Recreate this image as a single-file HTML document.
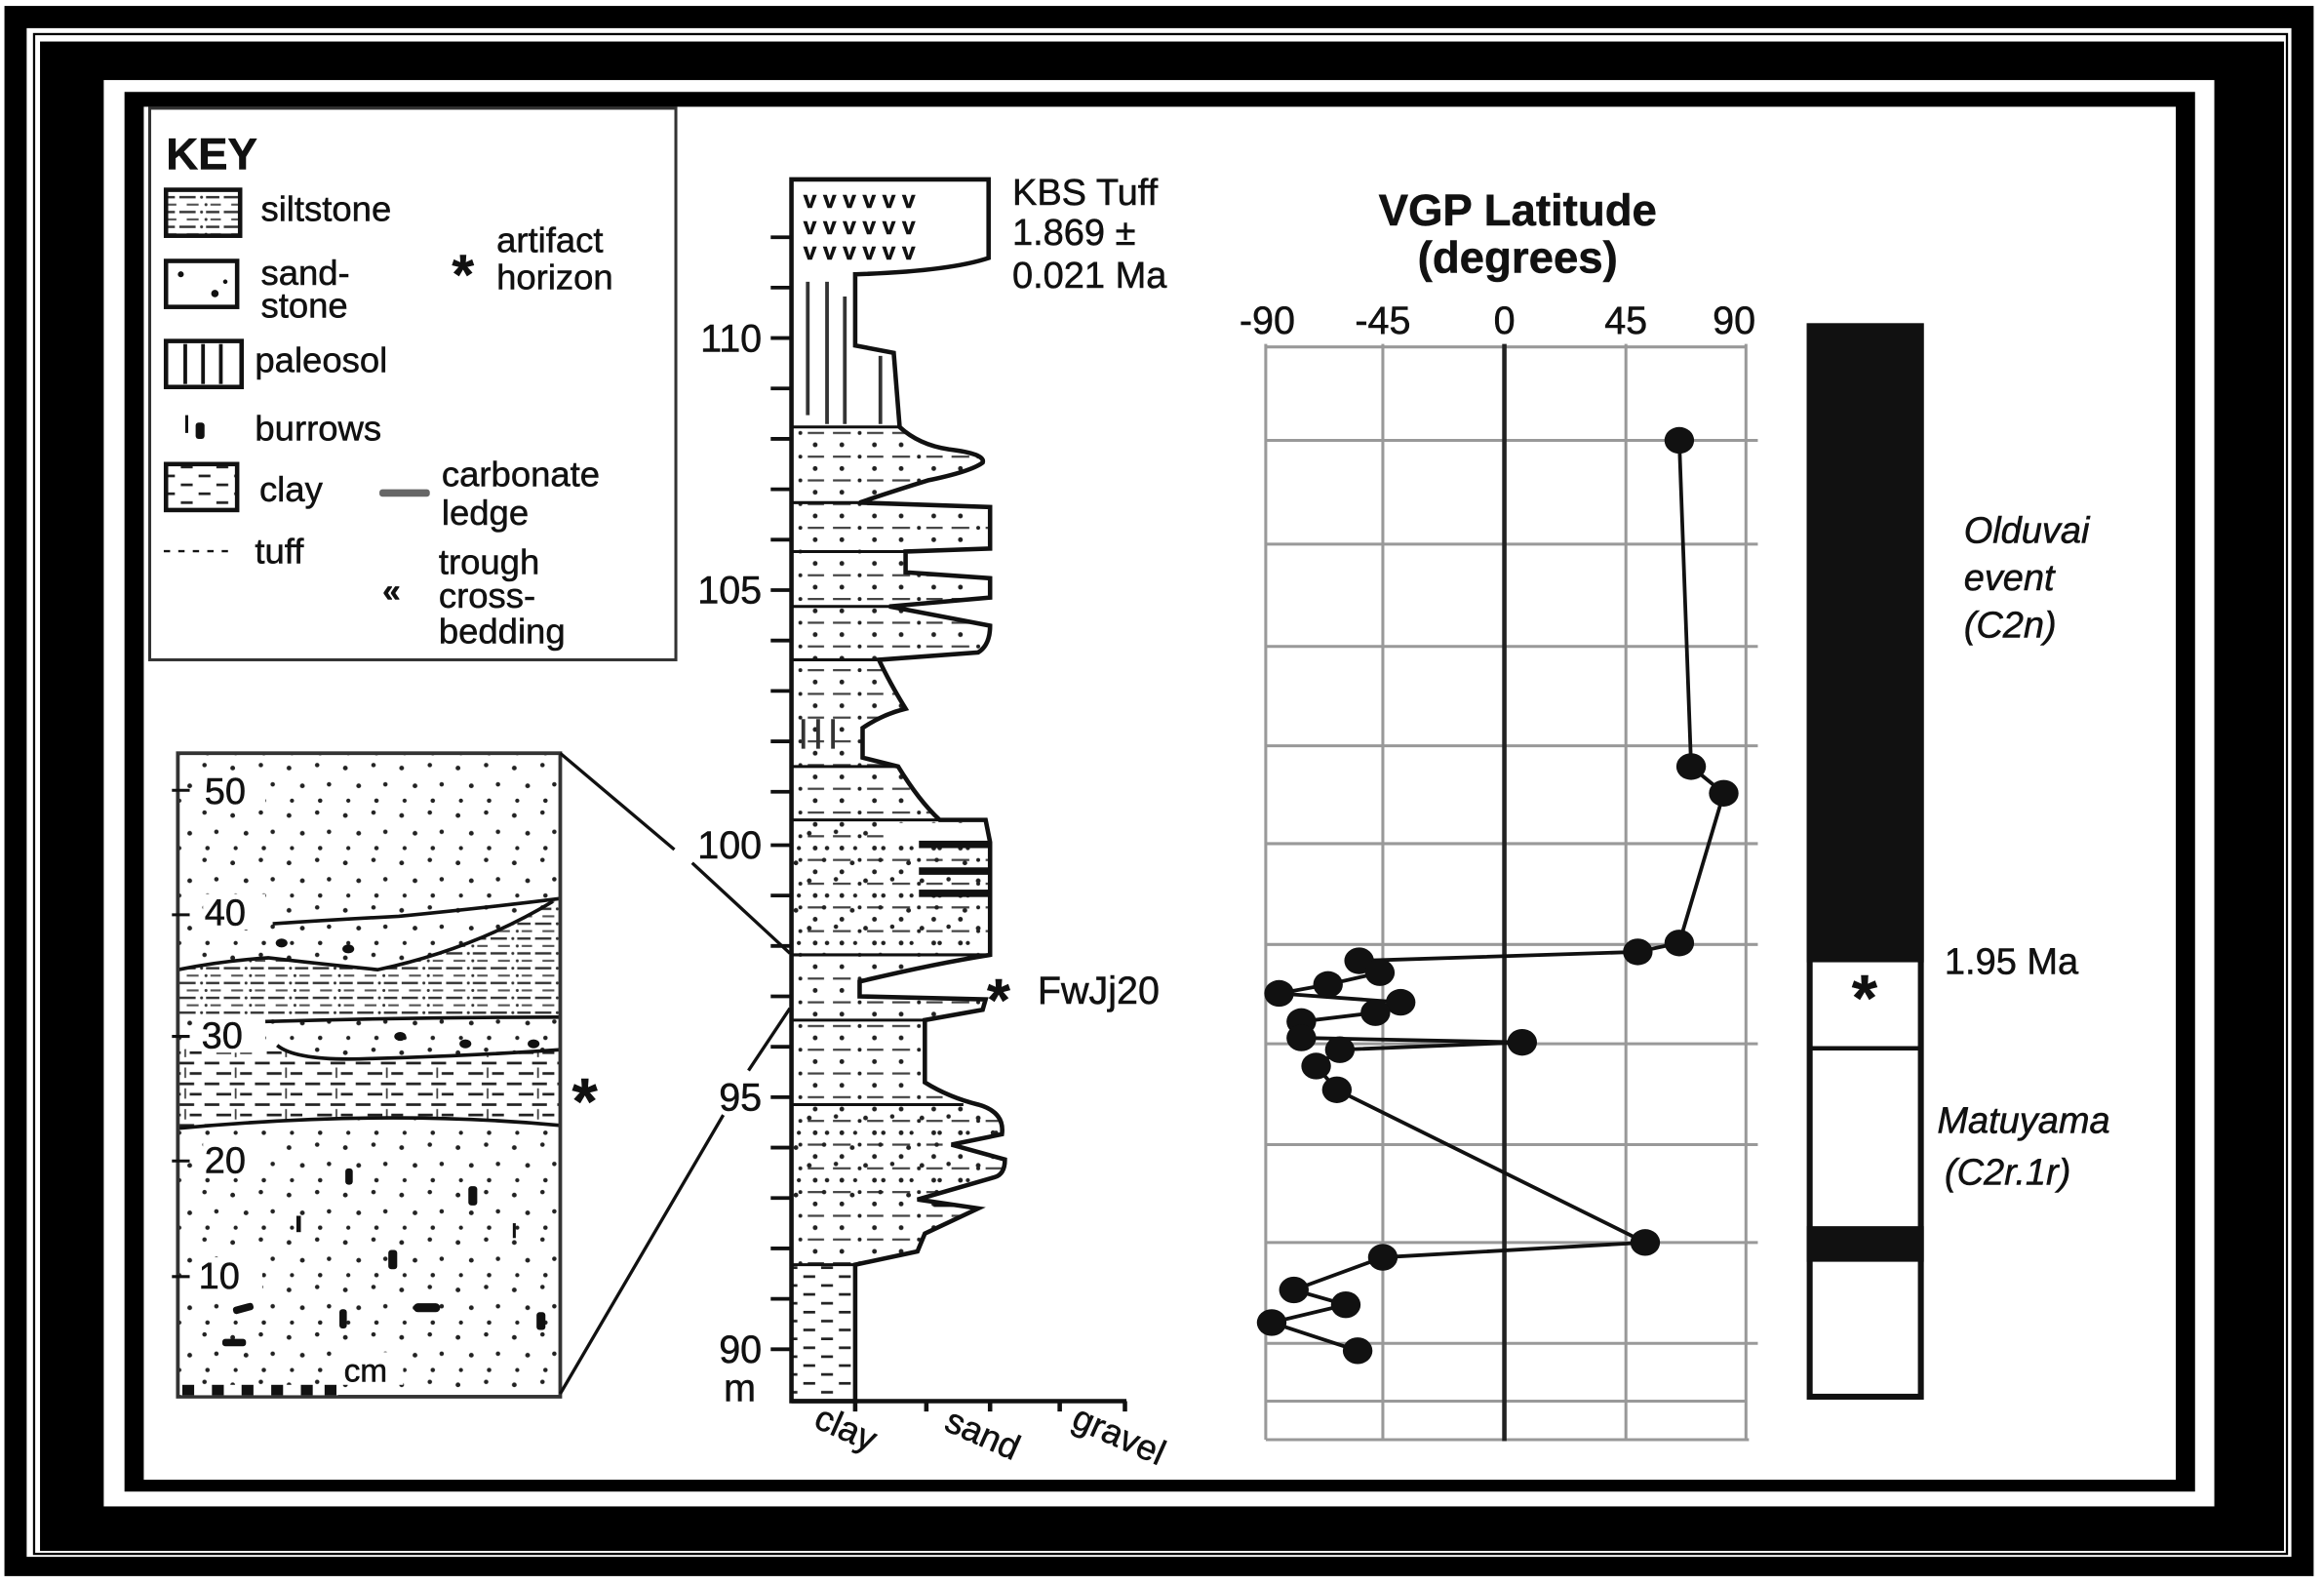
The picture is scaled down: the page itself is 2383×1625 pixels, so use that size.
<!DOCTYPE html>
<html><head><meta charset="utf-8"><style>
html,body{margin:0;padding:0;background:#fff;}
svg{display:block;}
text{font-family:"Liberation Sans",Arial,sans-serif;fill:#111;stroke:#111;stroke-width:0.35;}
</style></head><body>
<svg width="2383" height="1625" viewBox="0 0 1568 1069" preserveAspectRatio="none" xmlns="http://www.w3.org/2000/svg">
<defs>
<pattern id="sd" width="38" height="32" patternUnits="userSpaceOnUse">
<circle cx="5" cy="6" r="1.6" fill="#222"/><circle cx="24" cy="4" r="1.5" fill="#222"/><circle cx="14" cy="18" r="1.6" fill="#222"/><circle cx="32" cy="17" r="1.5" fill="#222"/><circle cx="7" cy="28" r="1.4" fill="#222"/><circle cx="26" cy="28" r="1.5" fill="#222"/>
</pattern>
<pattern id="silt" width="30" height="10" patternUnits="userSpaceOnUse">
<line x1="1" y1="3" x2="12" y2="3" stroke="#333" stroke-width="1.6"/><circle cx="16" cy="3" r="1" fill="#333"/><line x1="19" y1="3" x2="28" y2="3" stroke="#333" stroke-width="1.6"/>
<line x1="6" y1="8" x2="14" y2="8" stroke="#555" stroke-width="1.4"/><circle cx="19" cy="8" r="1" fill="#333"/><line x1="22" y1="8" x2="29" y2="8" stroke="#555" stroke-width="1.4"/>
</pattern>
<pattern id="clay" width="24" height="12" patternUnits="userSpaceOnUse">
<line x1="2" y1="3" x2="10" y2="3" stroke="#222" stroke-width="1.8"/><line x1="14" y1="9" x2="22" y2="9" stroke="#222" stroke-width="1.8"/>
</pattern>
<pattern id="claycl" width="34" height="14" patternUnits="userSpaceOnUse">
<line x1="2" y1="3" x2="12" y2="3" stroke="#222" stroke-width="1.8"/><line x1="19" y1="3" x2="29" y2="3" stroke="#222" stroke-width="1.8"/>
<line x1="10" y1="10" x2="20" y2="10" stroke="#222" stroke-width="1.8"/><line x1="26" y1="10" x2="34" y2="10" stroke="#222" stroke-width="1.8"/><line x1="23" y1="6" x2="23" y2="13" stroke="#444" stroke-width="1.2"/>
</pattern>
<pattern id="mix" width="40" height="16" patternUnits="userSpaceOnUse">
<line x1="2" y1="4" x2="14" y2="4" stroke="#444" stroke-width="1.5"/><circle cx="20" cy="4" r="1.3" fill="#222"/><line x1="25" y1="4" x2="36" y2="4" stroke="#444" stroke-width="1.5"/>
<circle cx="8" cy="12" r="1.6" fill="#222"/><circle cx="30" cy="12" r="1.6" fill="#222"/>
</pattern>
<clipPath id="col"><path d="M534,121 L667,121 L667,174 Q640,183 577,185 L577,233 L603,238 L607,288 Q620,300 640,303 Q665,306 663,312 Q655,318 626,324 Q600,332 580,339 L668,342 L668,370 L611,372 L611,386 L668,390 L668,403 L600,409 L668,422 Q668,435 660,440 L593,445 Q600,460 611,478 Q595,482 582,491 L582,511 L606,517 Q620,540 634,553 L665,553 L668,568 L668,605 L668,644 Q630,650 580,662 L580,672 L665,674 L663,681 L624,688 L624,730 Q640,740 660,745 Q678,750 676,765 L642,772 L678,782 Q678,792 671,794 L619,809 L660,815 L624,832 L619,844 L577,853 L577,945 L534,945 Z"/></clipPath>
</defs>

<rect x="0" y="0" width="1568" height="1069" fill="#fff"/>
<rect x="3" y="4" width="1558" height="1059" fill="#000"/>
<rect x="18" y="19" width="1528" height="1031" fill="#fff"/>
<rect x="23" y="23" width="1520" height="1025" fill="none" stroke="#000" stroke-width="1.5"/>
<rect x="27" y="28" width="1514" height="1018" fill="#000"/>
<rect x="70" y="54" width="1424" height="962" fill="#fff"/>
<rect x="84" y="62" width="1397" height="944" fill="#000"/>
<rect x="97" y="72" width="1371" height="926" fill="#fff"/>

<rect x="101" y="73" width="355" height="372" fill="#fff" stroke="#333" stroke-width="2"/>
<text x="112" y="114" font-size="30" font-weight="bold">KEY</text>
<rect x="112" y="128" width="50" height="31" fill="url(#silt)" stroke="#111" stroke-width="3"/>
<text x="176" y="149" font-size="24">siltstone</text>
<rect x="112" y="176" width="48" height="31" fill="#fff" stroke="#111" stroke-width="3"/>
<circle cx="122" cy="185" r="2" fill="#111"/><circle cx="145" cy="198" r="2.5" fill="#111"/><circle cx="152" cy="190" r="1.5" fill="#111"/>
<text x="176" y="192" font-size="24">sand-</text>
<text x="176" y="214" font-size="24">stone</text>
<text x="305" y="198" font-size="38" font-weight="bold">*</text>
<text x="335" y="170" font-size="24">artifact</text>
<text x="335" y="195" font-size="24">horizon</text>
<rect x="112" y="230" width="51" height="31" fill="#fff" stroke="#111" stroke-width="3"/>
<g stroke="#111" stroke-width="2.5"><line x1="125" y1="232" x2="125" y2="259"/><line x1="137" y1="232" x2="137" y2="259"/><line x1="149" y1="232" x2="149" y2="259"/></g>
<text x="172" y="251" font-size="24">paleosol</text>
<line x1="126" y1="280" x2="126" y2="292" stroke="#111" stroke-width="2"/><rect x="132" y="285" width="6" height="11" rx="2" fill="#111"/>
<text x="172" y="297" font-size="24">burrows</text>
<rect x="112" y="313" width="48" height="31" fill="url(#clay)" stroke="#111" stroke-width="3"/>
<text x="175" y="338" font-size="24">clay</text>
<rect x="256" y="330" width="34" height="5" rx="2" fill="#666"/>
<text x="298" y="328" font-size="24">carbonate</text>
<text x="298" y="354" font-size="24">ledge</text>
<text x="110" y="376" font-size="16" fill="#555" stroke="none">- - - - -</text>
<text x="172" y="380" font-size="24">tuff</text>
<text x="258" y="406" font-size="22" font-weight="bold">«</text>
<text x="296" y="387" font-size="24">trough</text>
<text x="296" y="410" font-size="24">cross-</text>
<text x="296" y="434" font-size="24">bedding</text>

<rect x="120" y="508" width="258" height="434" fill="url(#sd)"/>
<path d="M120,654 Q150,648 181,646 Q215,650 255,654 Q320,640 373,608 L378,605 L378,686 L120,686 Z" fill="#fff"/>
<path d="M120,654 Q150,648 181,646 Q215,650 255,654 Q320,640 373,608 L378,605 L378,686 L120,686 Z" fill="url(#silt)"/>
<path d="M120,708 Q150,705 187,705 Q200,716 250,714 Q320,712 378,708 L378,759 Q260,748 120,761 Z" fill="#fff"/>
<path d="M120,708 Q150,705 187,705 Q200,716 250,714 Q320,712 378,708 L378,759 Q260,748 120,761 Z" fill="url(#claycl)"/>
<g fill="none" stroke="#111" stroke-width="2.4">
<path d="M184,623 Q230,620 269,618 Q330,612 378,606"/>
<path d="M120,654 Q150,648 181,646 Q215,650 255,654 Q320,640 373,608"/>
<path d="M179,689 Q280,686 378,686"/>
<path d="M187,705 Q200,716 250,714 Q320,712 378,708"/>
<path d="M120,761 Q260,748 378,759"/>
</g>
<g fill="#111">
<ellipse cx="190" cy="636" rx="4" ry="3"/><ellipse cx="235" cy="640" rx="4" ry="3"/><ellipse cx="270" cy="699" rx="4" ry="3"/><ellipse cx="314" cy="704" rx="4" ry="3"/><ellipse cx="360" cy="704" rx="4" ry="3"/>
<rect x="233" y="788" width="5" height="11" rx="2"/><rect x="316" y="800" width="6" height="13" rx="2"/><rect x="262" y="843" width="6" height="13" rx="2"/><rect x="200" y="820" width="3" height="11"/><rect x="346" y="825" width="2" height="10"/>
<rect x="157" y="880" width="14" height="5" rx="2" transform="rotate(-15 164 882)"/><rect x="279" y="879" width="18" height="6" rx="3"/><rect x="229" y="883" width="5" height="13" rx="2"/><rect x="362" y="885" width="6" height="12" rx="2"/><rect x="150" y="903" width="16" height="5" rx="2"/>
</g>
<rect x="120" y="508" width="258" height="434" fill="none" stroke="#333" stroke-width="2.5"/>
<rect x="122" y="934" width="106" height="7" fill="#fff"/>
<g fill="#111"><rect x="123" y="934" width="8" height="7"/><rect x="143" y="934" width="8" height="7"/><rect x="163" y="934" width="8" height="7"/><rect x="183" y="934" width="8" height="7"/><rect x="203" y="934" width="8" height="7"/><rect x="219" y="934" width="8" height="7"/></g>
<g fill="#fff"><rect x="137" y="521" width="42" height="24"/><rect x="137" y="603" width="42" height="24"/><rect x="137" y="686" width="42" height="24"/><rect x="137" y="770" width="42" height="24"/><rect x="135" y="848" width="42" height="24"/><rect x="228" y="912" width="44" height="22"/></g>
<g font-size="25"><text x="138" y="542">50</text><text x="138" y="624">40</text><text x="136" y="707">30</text><text x="138" y="791">20</text><text x="134" y="869">10</text><text x="232" y="932" font-size="22">cm</text></g>
<g stroke="#111" stroke-width="2"><line x1="116" y1="533" x2="128" y2="533"/><line x1="116" y1="617" x2="128" y2="617"/><line x1="116" y1="699" x2="128" y2="699"/><line x1="116" y1="783" x2="128" y2="783"/><line x1="116" y1="861" x2="128" y2="861"/></g>
<text x="386" y="758" font-size="44" font-weight="bold">*</text>

<line x1="378" y1="508" x2="455" y2="573" stroke="#111" stroke-width="2.2"/>
<line x1="467" y1="582" x2="533" y2="643" stroke="#111" stroke-width="2.2"/>
<line x1="378" y1="940" x2="488" y2="752" stroke="#111" stroke-width="2.2"/>
<line x1="505" y1="722" x2="533" y2="680" stroke="#111" stroke-width="2.2"/>

<g clip-path="url(#col)">
<rect x="530" y="118" width="150" height="830" fill="#fff"/>
<rect x="530" y="288" width="150" height="565" fill="url(#mix)"/>
<rect x="530" y="853" width="60" height="95" fill="url(#clay)"/>
<rect x="530" y="553" width="150" height="90" fill="url(#sd)"/>
<rect x="600" y="555" width="70" height="12" fill="#fff"/>
<rect x="530" y="745" width="150" height="70" fill="url(#sd)"/>
<g stroke="#333" stroke-width="2.5"><line x1="545" y1="190" x2="545" y2="280"/><line x1="558" y1="190" x2="558" y2="286"/><line x1="570" y1="200" x2="570" y2="286"/><line x1="594" y1="240" x2="594" y2="286"/><line x1="542" y1="485" x2="542" y2="505"/><line x1="552" y1="485" x2="552" y2="505"/><line x1="562" y1="485" x2="562" y2="505"/></g>
<g font-size="16" font-weight="bold"><text x="542" y="140">v v v v v v</text><text x="542" y="158">v v v v v v</text><text x="542" y="175">v v v v v v</text></g>
<g stroke="#111" stroke-width="2" fill="none">
<line x1="534" y1="288" x2="608" y2="288"/><line x1="534" y1="339" x2="620" y2="339"/><line x1="534" y1="372" x2="612" y2="372"/><line x1="534" y1="409" x2="610" y2="409"/><line x1="534" y1="445" x2="600" y2="445"/><line x1="534" y1="517" x2="606" y2="517"/><line x1="534" y1="553" x2="668" y2="553"/><line x1="534" y1="644" x2="668" y2="644"/><line x1="534" y1="688" x2="624" y2="688"/><line x1="534" y1="745" x2="650" y2="745"/><line x1="534" y1="853" x2="620" y2="853"/>
</g>
<g fill="#111"><rect x="620" y="567" width="50" height="5"/><rect x="620" y="585" width="50" height="5"/><rect x="620" y="600" width="50" height="5"/><rect x="580" y="660" width="40" height="5"/><rect x="630" y="810" width="20" height="4"/></g>
</g>
<path d="M534,121 L667,121 L667,174 Q640,183 577,185 L577,233 L603,238 L607,288 Q620,300 640,303 Q665,306 663,312 Q655,318 626,324 Q600,332 580,339 L668,342 L668,370 L611,372 L611,386 L668,390 L668,403 L600,409 L668,422 Q668,435 660,440 L593,445 Q600,460 611,478 Q595,482 582,491 L582,511 L606,517 Q620,540 634,553 L665,553 L668,568 L668,605 L668,644 Q630,650 580,662 L580,672 L665,674 L663,681 L624,688 L624,730 Q640,740 660,745 Q678,750 676,765 L642,772 L678,782 Q678,792 671,794 L619,809 L660,815 L624,832 L619,844 L577,853 L577,945 L534,945 Z" fill="none" stroke="#111" stroke-width="3"/>
<g stroke="#111" stroke-width="2.5">
<line x1="520" y1="160" x2="534" y2="160"/><line x1="520" y1="194" x2="534" y2="194"/><line x1="520" y1="228" x2="534" y2="228"/><line x1="520" y1="262" x2="534" y2="262"/><line x1="520" y1="296" x2="534" y2="296"/><line x1="520" y1="330" x2="534" y2="330"/><line x1="520" y1="364" x2="534" y2="364"/><line x1="520" y1="398" x2="534" y2="398"/><line x1="520" y1="432" x2="534" y2="432"/><line x1="520" y1="466" x2="534" y2="466"/><line x1="520" y1="500" x2="534" y2="500"/><line x1="520" y1="534" x2="534" y2="534"/><line x1="520" y1="570" x2="534" y2="570"/><line x1="520" y1="604" x2="534" y2="604"/><line x1="520" y1="638" x2="534" y2="638"/><line x1="520" y1="672" x2="534" y2="672"/><line x1="520" y1="706" x2="534" y2="706"/><line x1="520" y1="740" x2="534" y2="740"/><line x1="520" y1="774" x2="534" y2="774"/><line x1="520" y1="808" x2="534" y2="808"/><line x1="520" y1="842" x2="534" y2="842"/><line x1="520" y1="876" x2="534" y2="876"/><line x1="520" y1="910" x2="534" y2="910"/>
</g>
<g font-size="26" text-anchor="end"><text x="514" y="237">110</text><text x="514" y="407">105</text><text x="514" y="579">100</text><text x="514" y="749">95</text><text x="514" y="919">90</text><text x="510" y="945">m</text></g>
<line x1="534" y1="945" x2="760" y2="945" stroke="#111" stroke-width="3"/>
<g stroke="#111" stroke-width="3"><line x1="577" y1="945" x2="577" y2="952"/><line x1="625" y1="945" x2="625" y2="952"/><line x1="668" y1="945" x2="668" y2="952"/><line x1="715" y1="945" x2="715" y2="952"/><line x1="759" y1="945" x2="759" y2="952"/></g>
<g font-size="24"><text transform="translate(548,962) rotate(24)">clay</text><text transform="translate(636,964) rotate(24)">sand</text><text transform="translate(722,962) rotate(24)">gravel</text></g>
<text x="683" y="138" font-size="25">KBS Tuff</text>
<text x="683" y="165" font-size="25">1.869 ±</text>
<text x="683" y="194" font-size="25">0.021 Ma</text>
<text x="666" y="688" font-size="40" font-weight="bold">*</text>
<text x="700" y="677" font-size="26">FwJj20</text>

<text x="1024" y="152" font-size="30" font-weight="bold" text-anchor="middle">VGP Latitude</text>
<text x="1024" y="184" font-size="30" font-weight="bold" text-anchor="middle">(degrees)</text>
<g font-size="26" text-anchor="middle"><text x="855" y="225">-90</text><text x="933" y="225">-45</text><text x="1015" y="225">0</text><text x="1097" y="225">45</text><text x="1170" y="225">90</text></g>
<g stroke="#999" stroke-width="2">
<line x1="854" y1="232" x2="854" y2="971"/><line x1="933" y1="232" x2="933" y2="971"/><line x1="1097" y1="232" x2="1097" y2="971"/><line x1="1178" y1="232" x2="1178" y2="971"/>
<line x1="854" y1="234" x2="1178" y2="234"/>
<line x1="854" y1="297" x2="1186" y2="297"/><line x1="854" y1="367" x2="1186" y2="367"/><line x1="854" y1="436" x2="1186" y2="436"/><line x1="854" y1="503" x2="1186" y2="503"/><line x1="854" y1="569" x2="1186" y2="569"/><line x1="854" y1="637" x2="1186" y2="637"/><line x1="854" y1="704" x2="1186" y2="704"/><line x1="854" y1="772" x2="1186" y2="772"/><line x1="854" y1="838" x2="1186" y2="838"/><line x1="854" y1="906" x2="1186" y2="906"/><line x1="854" y1="945" x2="1178" y2="945"/><line x1="854" y1="971" x2="1180" y2="971"/>
</g>
<line x1="1015" y1="232" x2="1015" y2="972" stroke="#222" stroke-width="3"/>
<polyline fill="none" stroke="#111" stroke-width="2.5" points="1133,297 1141,517 1163,535 1133,636 1105,642 917,648 931,656 896,664 863,670 945,676 928,683 878,689 878,700 1027,703 904,708 888,719 902,735 1110,838 933,848 873,870 908,880 858,892 916,911"/>
<g fill="#111">
<ellipse cx="1133" cy="297" rx="10" ry="9"/><ellipse cx="1141" cy="517" rx="10" ry="9"/><ellipse cx="1163" cy="535" rx="10" ry="9"/><ellipse cx="1133" cy="636" rx="10" ry="9"/><ellipse cx="1105" cy="642" rx="10" ry="9"/><ellipse cx="917" cy="648" rx="10" ry="9"/><ellipse cx="931" cy="656" rx="10" ry="9"/><ellipse cx="896" cy="664" rx="10" ry="9"/><ellipse cx="863" cy="670" rx="10" ry="9"/><ellipse cx="945" cy="676" rx="10" ry="9"/><ellipse cx="928" cy="683" rx="10" ry="9"/><ellipse cx="878" cy="689" rx="10" ry="9"/><ellipse cx="878" cy="700" rx="10" ry="9"/><ellipse cx="1027" cy="703" rx="10" ry="9"/><ellipse cx="904" cy="708" rx="10" ry="9"/><ellipse cx="888" cy="719" rx="10" ry="9"/><ellipse cx="902" cy="735" rx="10" ry="9"/><ellipse cx="1110" cy="838" rx="10" ry="9"/><ellipse cx="933" cy="848" rx="10" ry="9"/><ellipse cx="873" cy="870" rx="10" ry="9"/><ellipse cx="908" cy="880" rx="10" ry="9"/><ellipse cx="858" cy="892" rx="10" ry="9"/><ellipse cx="916" cy="911" rx="10" ry="9"/>
</g>

<rect x="1221" y="220" width="75" height="722" fill="#fff" stroke="#111" stroke-width="4"/>
<rect x="1219" y="218" width="79" height="431" fill="#111"/>
<line x1="1221" y1="707" x2="1296" y2="707" stroke="#111" stroke-width="3"/>
<rect x="1219" y="827" width="79" height="24" fill="#111"/>
<text x="1258" y="688" font-size="44" font-weight="bold" text-anchor="middle">*</text>
<g font-size="25" font-style="italic"><text x="1325" y="366">Olduvai</text><text x="1325" y="398">event</text><text x="1325" y="430">(C2n)</text><text x="1307" y="764">Matuyama</text><text x="1312" y="799">(C2r.1r)</text></g>
<text x="1312" y="657" font-size="25">1.95 Ma</text>
</svg>
</body></html>
